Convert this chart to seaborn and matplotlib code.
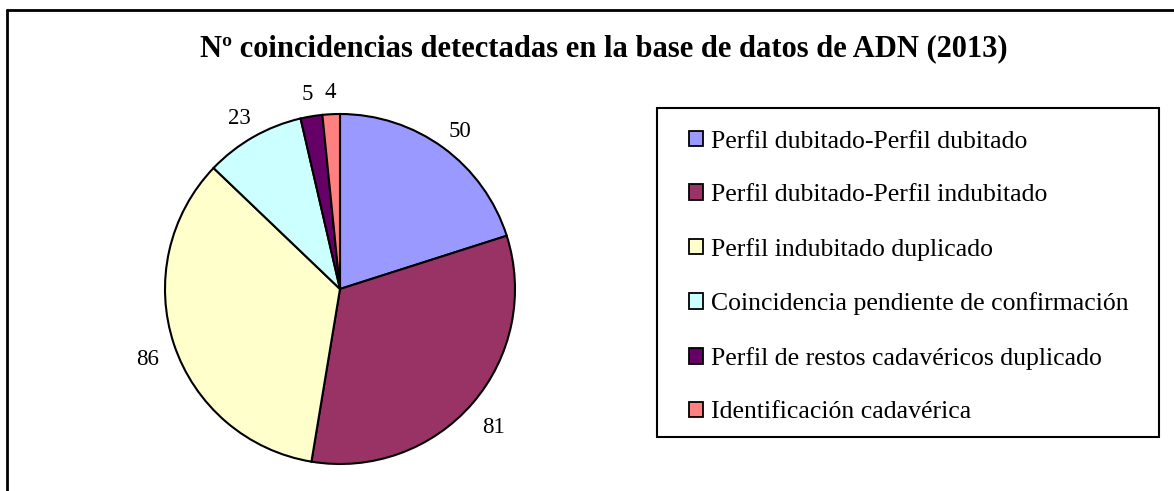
import matplotlib
matplotlib.use("Agg")
import matplotlib.pyplot as plt
import seaborn as sns
from matplotlib.patches import Patch, Rectangle
from matplotlib.lines import Line2D

# Data
categories = [
    "Perfil dubitado-Perfil dubitado",
    "Perfil dubitado-Perfil indubitado",
    "Perfil indubitado duplicado",
    "Coincidencia pendiente de confirmación",
    "Perfil de restos cadavéricos duplicado",
    "Identificación cadavérica",
]
values = [50, 81, 86, 23, 5, 4]
colors = ["#9999FF", "#993366", "#FFFFCC", "#CCFFFF", "#660066", "#FF8080"]
title = "Nº coincidencias detectadas en la base de datos de ADN (2013)"

sns.set_theme(style="white")
plt.rcParams["font.family"] = ["Liberation Serif", "DejaVu Serif"]

W, H = 1174, 491
fig = plt.figure(figsize=(W / 100, H / 100), dpi=100)
fig.patch.set_facecolor("white")

# pie axes: centre (340, 289) px, radius 175 px
cx, cy, r = 340, 289, 175
ax = fig.add_axes([(cx - r) / W, 1 - (cy + r) / H, 2 * r / W, 2 * r / H])
wedges, texts = ax.pie(
    values,
    colors=colors,
    labels=[str(v) for v in values],
    labeldistance=1.16,
    startangle=90,
    counterclock=False,
    wedgeprops=dict(edgecolor="black", linewidth=1.5),
    textprops=dict(fontsize=16.5, color="black"),
)
# labels sit a little lower than the radial point in the original
for t in texts:
    t.set_horizontalalignment("center")
    t.set_verticalalignment("center")
    x, y = t.get_position()
    t.set_position((x, y - 6 / r))
ax.set_xlim(-1, 1)
ax.set_ylim(-1, 1)
ax.set_aspect("equal")
ax.axis("off")

fig.text(604 / W, 1 - 49 / H, title, ha="center", va="center",
         fontsize=22, fontweight="bold", color="black")

# legend frame
fig.add_artist(Rectangle((657 / W, 1 - 437 / H), (1159 - 657) / W, (437 - 108) / H,
                         transform=fig.transFigure, fill=False,
                         edgecolor="black", linewidth=1.5))
handles = [Patch(facecolor=c, edgecolor="black", linewidth=1.3) for c in colors]
leg = fig.legend(handles, categories, loc="center left",
                 bbox_to_anchor=(689 / W, 1 - 277 / H), bbox_transform=fig.transFigure,
                 frameon=False, fontsize=18.5, borderpad=0, borderaxespad=0,
                 handlelength=0.55, handleheight=0.55, handletextpad=0.3,
                 labelspacing=1.23)
for t in leg.get_texts():
    t.set_color("black")

# outer chart border (top and left visible)
fig.add_artist(Line2D([7 / W, 1], [1 - 10 / H, 1 - 10 / H], transform=fig.transFigure,
                      color="black", linewidth=2))
fig.add_artist(Line2D([7 / W, 7 / W], [0, 1 - 10 / H], transform=fig.transFigure,
                      color="black", linewidth=2))

fig.savefig("out.png", dpi=100, facecolor="white")
